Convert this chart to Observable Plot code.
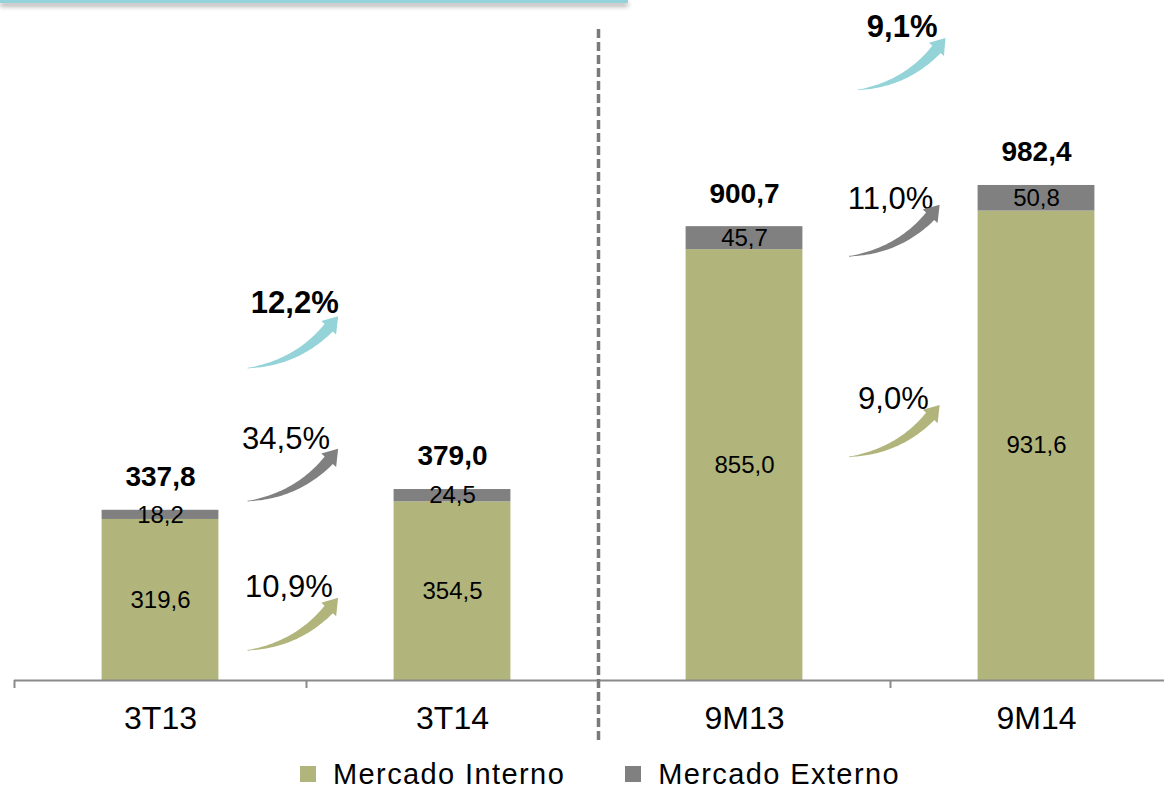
<!DOCTYPE html>
<html>
<head>
<meta charset="utf-8">
<script src="https://cdn.jsdelivr.net/npm/d3@7"></script>
<script src="https://cdn.jsdelivr.net/npm/@observablehq/plot@0.6"></script>
<style>
  html, body { margin: 0; padding: 0; background: white; }
  #wrap { position: relative; width: 1164px; height: 791px; overflow: hidden; font-family: "Liberation Sans", Arial, sans-serif; }
  #topbar { position: absolute; top: 0; left: 0; width: 628px; height: 3px; background: #93d3d9; box-shadow: 0 3px 5px rgba(0,0,0,0.45); z-index: 2; }
  #legend { position: absolute; top: 758px; left: 0; width: 1164px; height: 32px; line-height: 32px; display: flex; justify-content: center; align-items: center; font-size: 29px; letter-spacing: 1.4px; color: #000; padding-left: 36px; box-sizing: border-box; }
  .item { display: flex; align-items: center; height: 32px; }
  .item span { line-height: 32px; }
  .sw { width: 16px; height: 16px; margin-right: 17px; }
  .gap { width: 60px; }
</style>
</head>
<body>
<div id="wrap">
  <div id="topbar"></div>
  <div id="chart"></div>
  <div id="legend"></div>
</div>
<script>
// ---- data ----
const categories = ["3T13", "3T14", "9M13", "9M14"];
const interno = [319.6, 354.5, 855.0, 931.6];
const externo = [18.2, 24.5, 45.7, 50.8];
const totals = [337.8, 379.0, 900.7, 982.4];
const seriesNames = ["Mercado Interno", "Mercado Externo"];

// growth annotations
const growthText = ["12,2%", "34,5%", "10,9%", "9,1%", "11,0%", "9,0%"];
const growthSeries = ["Total", "Mercado Externo", "Mercado Interno", "Total", "Mercado Externo", "Mercado Interno"];
// annotation layout (x in category-index units, y in data units)
const arrowX1 = [0.30, 0.30, 0.30, 2.39, 2.36, 2.36];
const arrowX2 = [0.61, 0.61, 0.61, 2.69, 2.67, 2.67];
const arrowY1 = [619, 355, 59, 1171, 841, 443];
const arrowY2 = [722, 459, 163, 1274, 943, 546];
const labelX = [0.46, 0.43, 0.44, 2.54, 2.50, 2.51];
const labelY = [750, 480, 185, 1296, 955, 558];

// ---- styles ----
const colors = {"Mercado Interno": "#b1b57c", "Mercado Externo": "#808080", "Total": "#94d4d9"};
const fmt = v => v.toFixed(1).replace(".", ",");

const rows = categories.map((c, i) => ({i, cat: c, interno: interno[i], externo: externo[i], total: totals[i]}));
const growth = growthText.map((t, k) => ({
  text: t, serie: growthSeries[k],
  x1: arrowX1[k], x2: arrowX2[k], y1: arrowY1[k], y2: arrowY2[k], lx: labelX[k], ly: labelY[k]
}));
const boundaries = d3.range(categories.length + 1).map(k => k - 0.5);

function arrowPath(x1, y1, x2, y2) {
  const dx = x2 - x1, dy = y2 - y1, L = Math.hypot(dx, dy);
  const ux = dx / L, uy = dy / L;
  const bend = 0.22 * L;
  const cx = (x1 + x2) / 2 - uy * bend, cy = (y1 + y2) / 2 + ux * bend;
  const Q = t => [(1-t)*(1-t)*x1 + 2*t*(1-t)*cx + t*t*x2, (1-t)*(1-t)*y1 + 2*t*(1-t)*cy + t*t*y2];
  const D = t => {
    const a = 2*(1-t)*(cx - x1) + 2*t*(x2 - cx), b = 2*(1-t)*(cy - y1) + 2*t*(y2 - cy);
    const n = Math.hypot(a, b); return [a/n, b/n];
  };
  const N = 60, pts = [], s = [0];
  for (let k = 0; k <= N; k++) pts.push(Q(k / N));
  for (let k = 1; k <= N; k++) s.push(s[k-1] + Math.hypot(pts[k][0]-pts[k-1][0], pts[k][1]-pts[k-1][1]));
  const total = s[N], headLen = 16, hw = 10, wmax = 5.5;
  const sb = total - headLen;
  let kb = 0; while (kb < N && s[kb] < sb) kb++;
  const left = [], right = [];
  for (let k = 0; k <= kb; k++) {
    const t = k / N, [tx, ty] = D(t);
    const w = Math.max(0.4, wmax * Math.pow(Math.min(1, s[k] / sb), 0.85));
    const [px, py] = pts[k];
    left.push([px - ty * w, py + tx * w]);
    right.push([px + ty * w, py - tx * w]);
  }
  const [bx, by] = pts[kb], [tx, ty] = D(kb / N);
  const path = d3.path();
  path.moveTo(...left[0]);
  for (const p of left.slice(1)) path.lineTo(...p);
  path.lineTo(bx - ty * hw, by + tx * hw);
  path.lineTo(x2, y2);
  path.lineTo(bx + ty * hw, by - tx * hw);
  for (const p of right.reverse()) path.lineTo(...p);
  path.closePath();
  return path.toString();
}

const arrowMark = Plot.arrow(growth, {
  x1: "x1", y1: "y1", x2: "x2", y2: "y2",
  stroke: d => colors[d.serie], strokeWidth: 5, bend: true,
  render(index, scales, values) {
    const g = d3.create("svg:g");
    for (const i of index) {
      g.append("path")
        .attr("d", arrowPath(values.x1[i], values.y1[i], values.x2[i], values.y2[i]))
        .attr("fill", colors[growth[i].serie]);
    }
    return g.node();
  }
});

const chart = Plot.plot({
  width: 1164,
  height: 757,
  marginTop: 0, marginBottom: 77, marginLeft: 0, marginRight: 0,
  x: {type: "linear", domain: [-0.5, 3.5], range: [14, 1182], axis: null},
  y: {domain: [0, 1349.5], range: [680, 0], axis: null},
  style: {fontFamily: "'Liberation Sans', Arial, sans-serif", background: "white", color: "black"},
  marks: [
    // bars
    Plot.rectY(rows, {x1: d => d.i - 0.2, x2: d => d.i + 0.2, y1: 0, y2: "interno", fill: colors["Mercado Interno"]}),
    Plot.rectY(rows, {x1: d => d.i - 0.2, x2: d => d.i + 0.2, y1: "interno", y2: d => d.interno + d.externo, fill: colors["Mercado Externo"]}),
    // axis
    Plot.ruleY([0], {x1: -0.5, x2: 3.5, stroke: "#8a8a8a", strokeWidth: 2}),
    Plot.ruleX(boundaries, {x: d => d, y1: 0, y2: -16, stroke: "#8a8a8a", strokeWidth: 2}),
    // separator
    Plot.ruleX([1.5], {y1: -119, y2: 1300, stroke: "#7a7a7a", strokeWidth: 3.5, strokeDasharray: "9,4"}),
    // category labels
    Plot.text(rows, {x: "i", y: 0, text: "cat", dy: 38, fontSize: 32, fill: "black"}),
    // in-bar labels
    Plot.text(rows, {x: "i", y: d => d.interno / 2, text: d => fmt(d.interno), fontSize: 24, fill: "black"}),
    Plot.text(rows, {x: "i", y: d => d.interno + d.externo / 2, text: d => fmt(d.externo), fontSize: 24, fill: "black"}),
    // totals
    Plot.text(rows, {x: "i", y: "total", text: d => fmt(d.total), dy: -33, fontSize: 28, fontWeight: "bold", fill: "black"}),
    // growth labels: total growth bold, segment growth regular
    Plot.text(growth.filter(d => d.serie === "Total"), {x: "lx", y: "ly", text: "text", fontSize: 31, fontWeight: "bold", fill: "black"}),
    Plot.text(growth.filter(d => d.serie !== "Total"), {x: "lx", y: "ly", text: "text", fontSize: 31, fill: "black"}),
    arrowMark
  ]
});
document.getElementById("chart").appendChild(chart);

// legend
const legend = d3.select("#legend");
seriesNames.forEach((s, k) => {
  if (k > 0) legend.append("div").attr("class", "gap");
  const it = legend.append("div").attr("class", "item");
  it.append("div").attr("class", "sw").style("background", colors[s]);
  it.append("span").text(s);
});
</script>
</body>
</html>
